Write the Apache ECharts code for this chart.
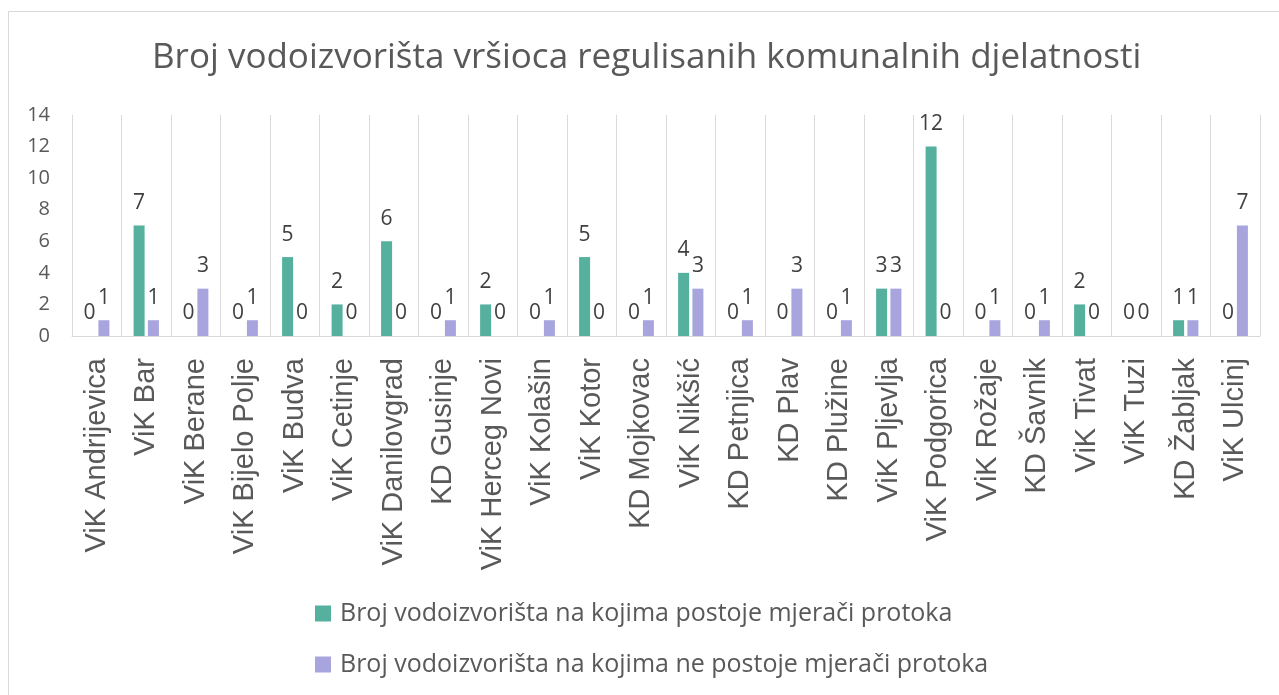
<!DOCTYPE html>
<html>
<head>
<meta charset="utf-8">
<script src="https://cdn.jsdelivr.net/npm/echarts@6/dist/echarts.min.js"></script>
<style>
  html, body { margin: 0; padding: 0; background: #fff; }
  #chart { width: 1279px; height: 695px; }
</style>
</head>
<body>
<div id="chart"></div>
<script>
  // kategorije
  var categories = ['ViK Andrijevica', 'ViK Bar', 'ViK Berane', 'ViK Bijelo Polje', 'ViK Budva', 'ViK Cetinje',
    'ViK Danilovgrad', 'KD Gusinje', 'ViK Herceg Novi', 'ViK Kolašin', 'ViK Kotor', 'KD Mojkovac', 'ViK Nikšić',
    'KD Petnjica', 'KD Plav', 'KD Plužine', 'ViK Pljevlja', 'ViK Podgorica', 'ViK Rožaje', 'KD Šavnik',
    'ViK Tivat', 'ViK Tuzi', 'KD Žabljak', 'ViK Ulcinj']
  var sMjeraci = [0, 7, 0, 0, 5, 2, 6, 0, 2, 0, 5, 0, 4, 0, 0, 0, 3, 12, 0, 0, 2, 0, 1, 0]
  var bezMjeraca = [1, 1, 3, 1, 0, 0, 0, 1, 0, 1, 0, 1, 3, 1, 3, 1, 3, 0, 1, 1, 0, 0, 1, 7]
  var yTicks = { min: 0, max: 14, interval: 2 }

  var font = '"Open Sans", "Noto Sans", sans-serif'
  var chart = echarts.init(document.getElementById('chart'))

  var labelStyle = {
    show: true,
    position: 'top',
    distance: 12,
    fontSize: 21,
    color: '#404040',
    fontFamily: font
  }

  chart.setOption({
    backgroundColor: '#fff',
    animation: false,
    title: {
      text: 'Broj vodoizvorišta vršioca regulisanih komunalnih djelatnosti',
      left: 147,
      top: 36,
      textStyle: {
        fontSize: 35,
        fontWeight: 'normal',
        color: '#595959',
        fontFamily: font
      }
    },
    graphic: [{
      type: 'rect',
      shape: { x: 8.5, y: 11.5, width: 1300, height: 700 },
      style: { fill: 'none', stroke: '#d9d9d9', lineWidth: 1 },
      silent: true
    }],
    legend: {
      orient: 'vertical',
      left: 310,
      top: 596,
      itemWidth: 16,
      itemHeight: 16,
      itemGap: 26,
      icon: 'rect',
      textStyle: {
        fontSize: 25,
        color: '#595959',
        fontFamily: font,
        padding: [0, 0, 0, 4]
      }
    },
    grid: {
      left: 72,
      right: 19,
      top: 115,
      bottom: 359
    },
    xAxis: {
      type: 'category',
      data: categories,
      axisLine: { lineStyle: { color: '#d9d9d9', width: 1 } },
      axisTick: { show: false },
      splitLine: { show: true, interval: 0, lineStyle: { color: '#d9d9d9', width: 1 } },
      axisLabel: {
        interval: 0,
        rotate: 90,
        margin: 22,
        fontSize: 29,
        color: '#595959',
        fontFamily: '"Liberation Sans", Arial, sans-serif'
      }
    },
    yAxis: {
      type: 'value',
      min: yTicks.min,
      max: yTicks.max,
      interval: yTicks.interval,
      axisLine: { show: false },
      axisTick: { show: false },
      splitLine: { show: false },
      axisLabel: {
        margin: 22,
        fontSize: 20,
        color: '#595959',
        fontFamily: font
      }
    },
    series: [
      {
        name: 'Broj vodoizvorišta na kojima postoje mjerači protoka',
        type: 'bar',
        data: sMjeraci,
        barWidth: 11,
        barGap: '30%',
        itemStyle: { color: '#55b09e' },
        label: labelStyle
      },
      {
        name: 'Broj vodoizvorišta na kojima ne postoje mjerači protoka',
        type: 'bar',
        data: bezMjeraca,
        barWidth: 11,
        itemStyle: { color: '#a8a5de' },
        label: labelStyle
      }
    ]
  })
</script>
</body>
</html>
